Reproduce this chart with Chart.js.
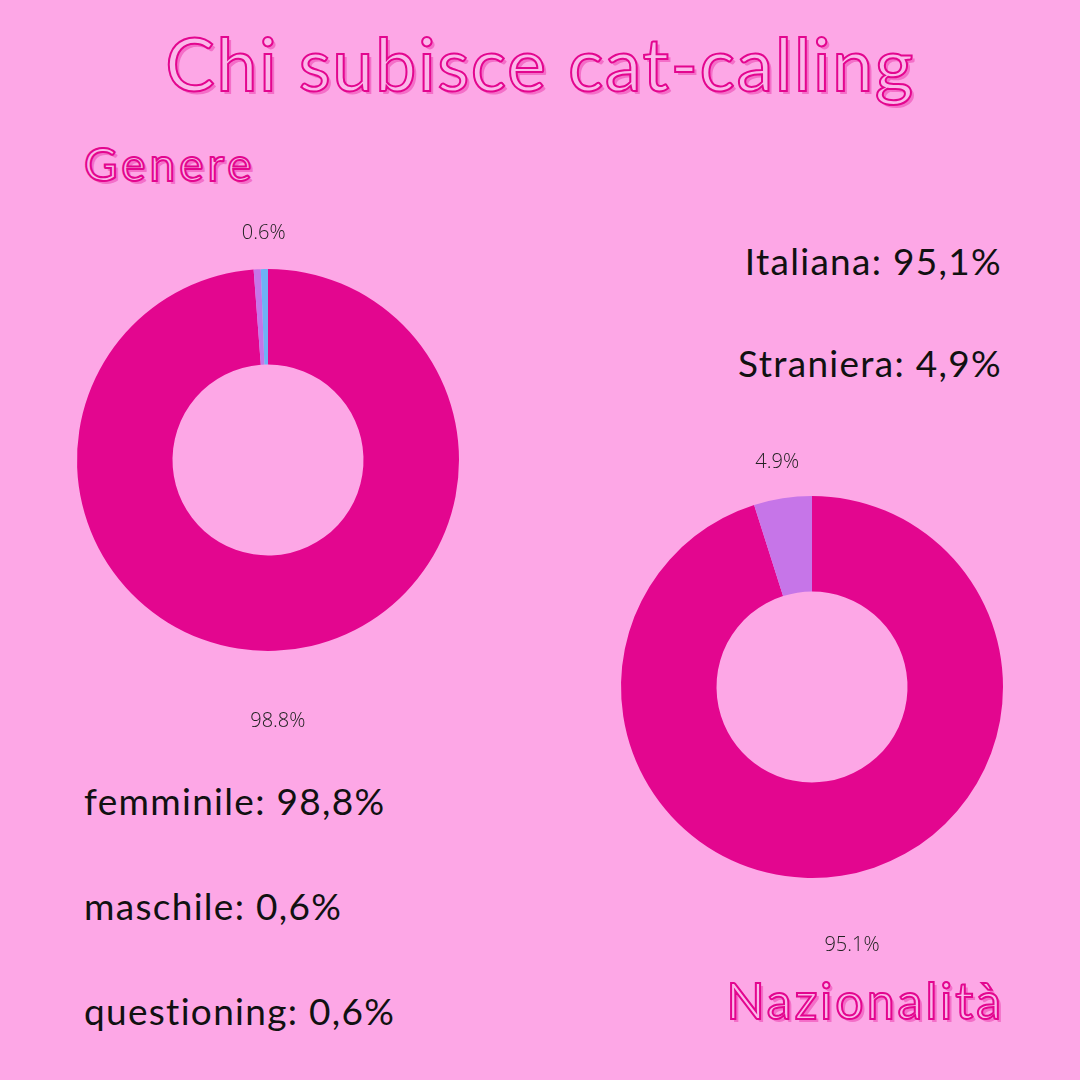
<!DOCTYPE html>
<html><head><meta charset="utf-8">
<script src="https://cdn.jsdelivr.net/npm/chart.js@4"></script>
<style>
html,body{margin:0;padding:0;}
body{width:1080px;height:1080px;background:#FDA7E6;position:relative;overflow:hidden;font-family:Lato,sans-serif;}
.t{position:absolute;white-space:nowrap;}
.o{color:#FBB8EA;-webkit-text-stroke:2px #E3068F;text-shadow:3px 3px 0 rgba(227,6,143,0.35);font-family:Lato;font-weight:400;}
.b{color:#111;font-size:37px;font-weight:400;letter-spacing:1.3px;}
canvas{position:absolute;}
#c1w{position:absolute;left:-32px;top:160px;width:600px;height:600px;}
#c2w{position:absolute;left:512px;top:387px;width:600px;height:600px;}
</style></head><body>
<div class="t o" style="left:0;width:1080px;text-align:center;top:18px;font-size:74px;letter-spacing:1.5px;">Chi subisce cat-calling</div>
<div class="t o" style="left:84px;top:136px;font-size:46px;letter-spacing:4px;">Genere</div>
<div class="t o" style="right:76px;top:970px;font-size:50px;letter-spacing:3px;">Nazionalità</div>
<div class="t b" style="right:78px;top:238px;">Italiana: 95,1%</div>
<div class="t b" style="right:78px;top:340px;">Straniera: 4,9%</div>
<div class="t b" style="left:84px;top:778px;">femminile: 98,8%</div>
<div class="t b" style="left:84px;top:883px;">maschile: 0,6%</div>
<div class="t b" style="left:84px;top:988px;">questioning: 0,6%</div>
<div id="c1w"><canvas id="c1"></canvas></div>
<div id="c2w"><canvas id="c2"></canvas></div>
<script>
const genereLabels = ["femminile","maschile","questioning"];
const genereValues = [98.8, 0.6, 0.6];
const nazLabels = ["Italiana","Straniera"];
const nazValues = [95.1, 4.9];
const MAG="#E3068F", PUR="#C675E8", BLU="#6EB2F5";

const outLabels = {
  id:'outLabels',
  afterDatasetsDraw(chart){
    const ctx=chart.ctx, meta=chart.getDatasetMeta(0), data=chart.data.datasets[0].data;
    const drawn=[];
    ctx.save();
    ctx.font='300 20px "Open Sans"';ctx.fillStyle='#222';ctx.textAlign='center';ctx.textBaseline='middle';
    for(let i=meta.data.length-1;i>=0;i--){
      const a=meta.data[i];
      const ang=(a.startAngle+a.endAngle)/2;
      const big=(a.endAngle-a.startAngle)>Math.PI;
      const r=a.outerRadius+(big?70:36);
      const x=a.x+Math.cos(ang)*r, y=a.y+Math.sin(ang)*r;
      if(drawn.some(p=>Math.hypot(p[0]-x,p[1]-y)<30)) continue;
      drawn.push([x,y]);
      ctx.fillText(data[i].toFixed(1)+'%',x,y);
    }
    ctx.restore();
  }
};
function mk(id,labels,values,colors){
  new Chart(document.getElementById(id),{
    type:'doughnut',
    data:{labels,datasets:[{data:values,backgroundColor:colors,borderWidth:0}]},
    options:{responsive:true,maintainAspectRatio:false,animation:false,cutout:'50%',
      layout:{padding:109},
      plugins:{legend:{display:false},tooltip:{enabled:false}}},
    plugins:[outLabels]
  });
}
mk('c1',genereLabels,genereValues,[MAG,PUR,BLU]);
mk('c2',nazLabels,nazValues,[MAG,PUR]);
</script>
</body></html>
